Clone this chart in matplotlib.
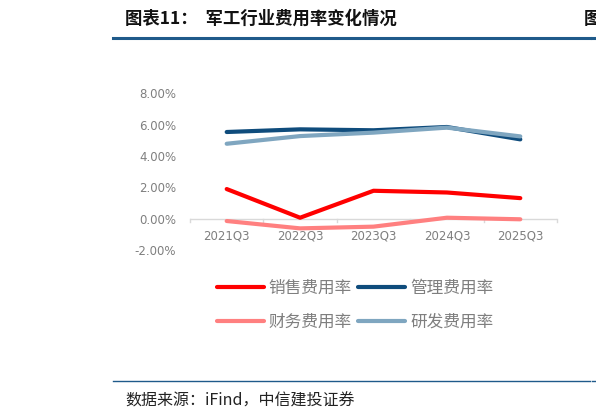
import matplotlib
matplotlib.use("Agg")
import matplotlib.pyplot as plt
from matplotlib.lines import Line2D
from matplotlib.ticker import FuncFormatter

plt.rcParams['font.family'] = ['Noto Sans CJK SC', 'DejaVu Sans']

# 数据（单位：%）
quarters = ['2021Q3', '2022Q3', '2023Q3', '2024Q3', '2025Q3']
xiaoshou = [1.89, 0.06, 1.78, 1.67, 1.31]    # 销售费用率
guanli = [5.53, 5.70, 5.64, 5.85, 5.06]      # 管理费用率
caiwu = [-0.15, -0.62, -0.51, 0.06, -0.04]   # 财务费用率
yanfa = [4.78, 5.27, 5.49, 5.81, 5.25]       # 研发费用率

series_names = ['销售费用率', '管理费用率', '财务费用率', '研发费用率']
series_colors = ['#FF0000', '#0F4C7C', '#FF8080', '#7FA6C0']

W, H = 596, 420
fig = plt.figure(figsize=(W / 100, H / 100), dpi=100)

# 标题和分隔线
fig.text(125 / W, 1 - 19 / H, '图表11：  军工行业费用率变化情况', fontsize=12.5,
         fontweight='bold', color='#111111', ha='left', va='center')
fig.text(584 / W, 1 - 19 / H, '图', fontsize=12.5, fontweight='bold',
         color='#111111', ha='left', va='center')
fig.add_artist(Line2D([113 / W, 590 / W], [1 - 37.5 / H] * 2, color='#1F5A8A', lw=2.2))
fig.add_artist(Line2D([592 / W, 1], [1 - 37.5 / H] * 2, color='#1F5A8A', lw=2.2))

fig.add_artist(Line2D([113 / W, 590 / W], [1 - 381 / H] * 2, color='#1F5A8A', lw=1.0))
fig.add_artist(Line2D([592 / W, 1], [1 - 381 / H] * 2, color='#1F5A8A', lw=1.0))
fig.text(125 / W, 1 - 401 / H, '数据来源：iFind，中信建投证券', fontsize=11.5,
         style='italic', color='#222222', ha='left', va='center')

# 图表区域
ax = fig.add_axes([190 / W, 1 - 250 / H, 367 / W, (250 - 93.3) / H])
x = list(range(len(quarters)))
ax.plot(x, xiaoshou, color=series_colors[0], lw=3, solid_capstyle='round', zorder=4)
ax.plot(x, guanli, color=series_colors[1], lw=3, solid_capstyle='round', zorder=3)
ax.plot(x, caiwu, color=series_colors[2], lw=3, solid_capstyle='round', zorder=3)
ax.plot(x, yanfa, color=series_colors[3], lw=3, solid_capstyle='round', zorder=3)

ax.set_xlim(-0.5, len(quarters) - 0.5)
ax.set_ylim(-2, 8)
ax.set_yticks([-2, 0, 2, 4, 6, 8])
ax.yaxis.set_major_formatter(FuncFormatter(lambda v, p: f'{v:.2f}%'))
for s in ['top', 'right', 'left', 'bottom']:
    ax.spines[s].set_visible(False)
ax.axhline(0, color='#D9D9D9', lw=1, zorder=1)

ax.set_xticks([])
ax.tick_params(axis='y', length=0, pad=10, labelsize=8.5, labelcolor='#7F7F7F')
for lbl in ax.get_yticklabels():
    lbl.set_family(['DejaVu Sans'])

# 类别标签和分隔刻度
for i, q in enumerate(quarters):
    ax.text(i, -0.7, q, ha='center', va='top', fontsize=8.5, color='#7F7F7F',
            family=['DejaVu Sans'])
for b in [i - 0.5 for i in range(len(quarters) + 1)]:
    ax.plot([b, b], [0, -0.22], color='#D9D9D9', lw=1, zorder=1, clip_on=False)

# 图例（按行排列：销售、管理 / 财务、研发）
order = [0, 2, 1, 3]
handles = [Line2D([0], [0], color=series_colors[i], lw=3, solid_capstyle='round') for i in order]
labels = [series_names[i] for i in order]
leg = fig.legend(handles, labels, loc='center', bbox_to_anchor=(355 / W, 1 - 305 / H),
                 ncol=2, frameon=False, fontsize=12, handlelength=2.8, handletextpad=0.3,
                 columnspacing=0.4, labelspacing=1.0)
for t in leg.get_texts():
    t.set_color('#7F7F7F')

fig.savefig('out.png', dpi=100)
